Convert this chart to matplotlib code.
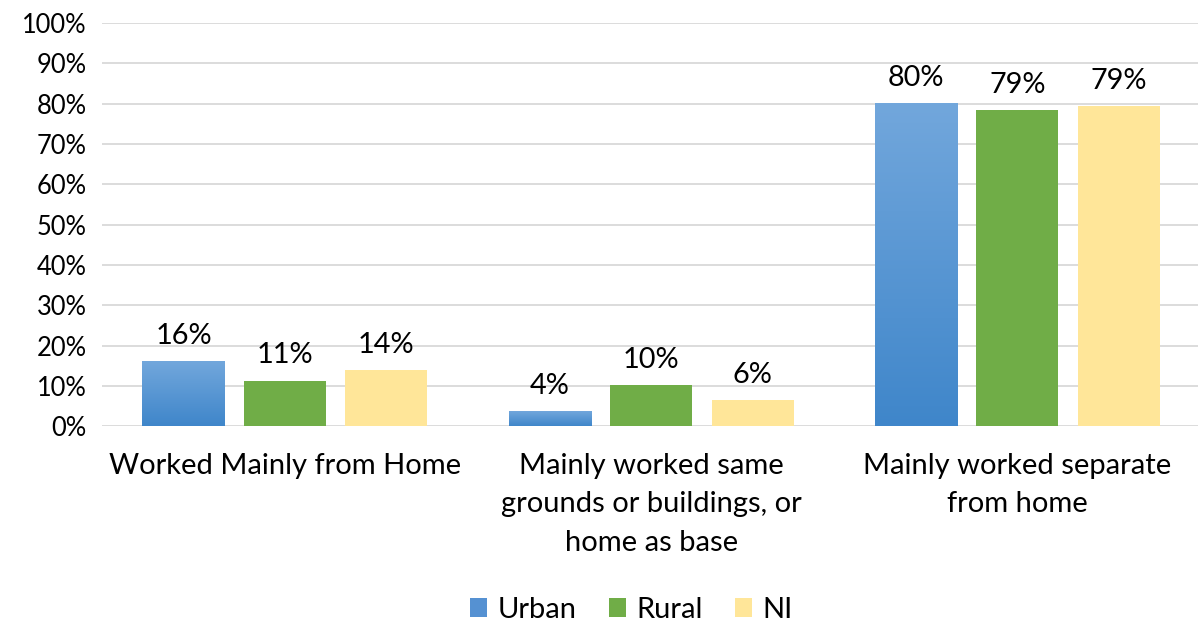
import numpy as np
import matplotlib.pyplot as plt
from matplotlib.colors import LinearSegmentedColormap
from matplotlib.patches import Patch

plt.rcParams['font.family'] = ['Lato', 'DejaVu Sans']

# data
categories = ["Worked Mainly from Home",
              "Mainly worked same\ngrounds or buildings, or\nhome as base",
              "Mainly worked separate\nfrom home"]
series = ["Urban", "Rural", "NI"]
urban = [16.1, 3.7, 80.1]
rural = [11.2, 10.2, 78.4]
ni = [13.9, 6.4, 79.4]
labels_urban = ["16%", "4%", "80%"]
labels_rural = ["11%", "10%", "79%"]
labels_ni = ["14%", "6%", "79%"]

colors = ["#5B9BD5", "#70AD47", "#FFE699"]
blue_grad = LinearSegmentedColormap.from_list("bg", ["#3F86CA", "#72A7DC"])

fig = plt.figure(figsize=(11.98, 6.23), dpi=100)
ax = fig.add_axes([0.085, 0.316, 0.917, 0.647])

x = np.arange(len(categories))
w = 0.224
step = 0.277

all_vals = [urban, rural, ni]
all_labels = [labels_urban, labels_rural, labels_ni]
for i, (vals, labs, c) in enumerate(zip(all_vals, all_labels, colors)):
    pos = x + (i - 1) * step
    bars = ax.bar(pos, vals, width=w, color=c, zorder=3)
    if i == 0:
        # vertical gradient like the Excel fill
        for b in bars:
            x0, y0 = b.get_x(), b.get_y()
            grad = np.linspace(0, 1, 256).reshape(-1, 1)
            im = ax.imshow(grad, cmap=blue_grad, origin='lower', aspect='auto',
                           extent=[x0, x0 + b.get_width(), y0, y0 + b.get_height()],
                           zorder=3.5)
            im.set_clip_path(b)
    for p, v, t in zip(pos, vals, labs):
        ax.annotate(t, (p, v), xytext=(0, 9), textcoords='offset points',
                    ha='center', va='bottom', fontsize=20.8, color='#000000')

ax.set_xlim(-0.5, 2.5)
ax.set_ylim(0, 100)
ax.set_yticks(np.arange(0, 101, 10))
ax.set_yticklabels([f"{v}%" for v in range(0, 101, 10)], fontsize=18.4)
ax.set_xticks(x)
ax.set_xticklabels(categories, fontsize=21, linespacing=1.6, va='top')
ax.tick_params(axis='both', length=0)
ax.tick_params(axis='y', pad=11)
ax.tick_params(axis='x', pad=19)
for s in ax.spines.values():
    s.set_visible(False)
ax.yaxis.grid(True, color='#D9D9D9', linewidth=1.3, zorder=0)
ax.set_axisbelow(True)

handles = [Patch(facecolor=c, label=s) for c, s in zip(colors, series)]
handles[0] = Patch(facecolor="#5591D2", label="Urban")
fig.legend(handles=handles, loc='lower center', bbox_to_anchor=(0.527, -0.042),
           ncol=3, frameon=False, fontsize=21, handlelength=0.6,
           handleheight=0.6, handletextpad=0.35, columnspacing=1.1)

fig.savefig("out.png", dpi=100)
